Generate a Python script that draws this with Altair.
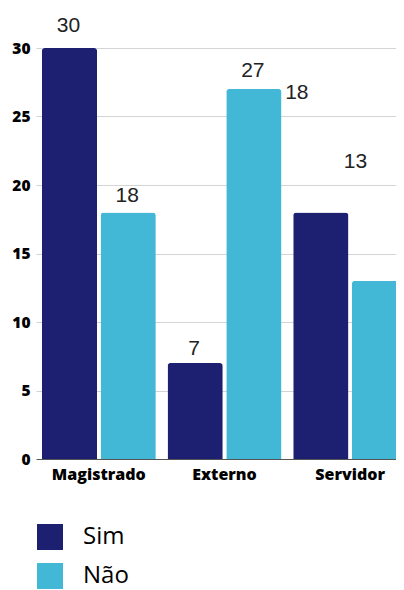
import altair as alt
import pandas as pd

categories = ["Magistrado", "Externo", "Servidor"]
groups = ["Sim", "Não"]
sim_values = [30, 7, 18]
nao_values = [18, 27, 13]
# levels (axis units) at which the value labels sit in the reference
sim_label_level = [31.6, 8.0, 26.7]
nao_label_level = [19.2, 28.3, 21.7]
y_ticks = [0, 5, 10, 15, 20, 25, 30]

BAR_SIM = "#1d1f70"
BAR_NAO = "#42b8d6"

rows = []
for i, c in enumerate(categories):
    rows.append(dict(cat=c, grp="Sim", value=sim_values[i], level=sim_label_level[i], shifted=(c == "Servidor")))
    rows.append(dict(cat=c, grp="Não", value=nao_values[i], level=nao_label_level[i], shifted=(c == "Servidor")))
df = pd.DataFrame(rows)

x_scale = alt.Scale(domain=categories, range=[-6, 371], paddingInner=0, paddingOuter=0)
xoff_scale = alt.Scale(domain=groups, paddingInner=0.06, paddingOuter=0.1)
y_scale = alt.Scale(domain=[0, 30], nice=False)

x_enc = alt.X("cat:N", scale=x_scale, sort=categories, title=None,
              axis=alt.Axis(labelFont="Open Sans", labelFontWeight=800, labelFontSize=16,
                            labelColor="black", labelPadding=7, labelAngle=0, ticks=False,
                            domain=False, grid=False))
xo_enc = alt.XOffset("grp:N", scale=xoff_scale, sort=groups)

base = alt.Chart(df)

bars = base.mark_bar(cornerRadiusTopLeft=3, cornerRadiusTopRight=3).encode(
    x=x_enc,
    xOffset=xo_enc,
    y=alt.Y("value:Q", scale=y_scale, title=None,
            axis=alt.Axis(values=y_ticks, labelFont="Open Sans", labelFontWeight=800,
                          labelFontSize=15.5, labelColor="black", labelPadding=12,
                          ticks=False, domain=False, grid=True,
                          gridColor=alt.condition("datum.value === 0", alt.value("#555555"), alt.value("#d4d4d4")),
                          gridWidth=1)),
    color=alt.Color("grp:N", scale=alt.Scale(domain=groups, range=[BAR_SIM, BAR_NAO]), sort=groups,
                    legend=alt.Legend(orient="none", legendX=-5, legendY=476, title=None,
                                      direction="vertical", symbolType="square", symbolSize=676,
                                      symbolOpacity=1, symbolStrokeWidth=0,
                                      labelFont="Open Sans", labelFontSize=24, labelColor="black",
                                      labelOffset=20, rowPadding=13, padding=0)),
)

text_kw = dict(font="Liberation Sans", fontSize=21, baseline="middle", align="center", color="#222222")
labels_a = base.transform_filter("!datum.shifted").mark_text(dx=-1, **text_kw).encode(
    x=alt.X("cat:N"), xOffset=xo_enc, y=alt.Y("level:Q"), text=alt.Text("value:Q"))
labels_b = base.transform_filter("datum.shifted").mark_text(dx=-24, **text_kw).encode(
    x=alt.X("cat:N"), xOffset=xo_enc, y=alt.Y("level:Q"), text=alt.Text("value:Q"))

chart = alt.layer(bars, labels_a, labels_b).properties(
    width=354, height=411,
    autosize=alt.AutoSizeParams(type="none"),
    padding={"left": 34, "top": 40, "right": 0, "bottom": 132},
).configure_view(stroke=None).configure(background="white")

chart.save("out.html", embed_options={"renderer": "svg", "actions": False})
